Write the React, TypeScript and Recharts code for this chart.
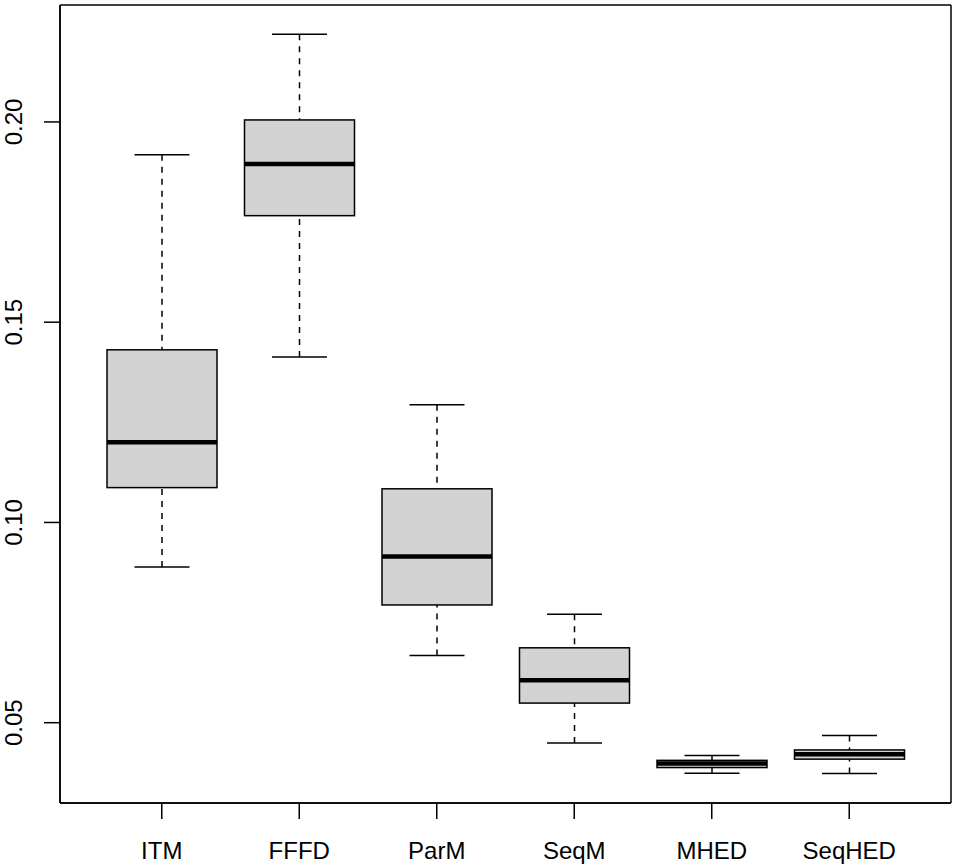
import React from 'react';
import { ComposedChart, Bar, XAxis, YAxis, CartesianGrid } from 'recharts';

const categories = ['ITM', 'FFFD', 'ParM', 'SeqM', 'MHED', 'SeqHED'];
const whiskerLow = [0.0889, 0.1413, 0.0668, 0.0449, 0.0374, 0.0373];
const q1 = [0.1087, 0.1766, 0.0794, 0.0549, 0.0388, 0.0409];
const median = [0.1200, 0.1895, 0.0915, 0.0606, 0.0398, 0.0421];
const q3 = [0.1431, 0.2005, 0.1084, 0.0687, 0.0406, 0.0432];
const whiskerHigh = [0.1918, 0.2219, 0.1294, 0.0771, 0.0418, 0.0468];
const yTicks = [0.05, 0.1, 0.15, 0.2];

const data = categories.map((name, i) => ({
  name,
  lo: whiskerLow[i],
  q1: q1[i],
  med: median[i],
  q3: q3[i],
  hi: whiskerHigh[i],
}));

const FONT = '"Liberation Sans", Arial, Helvetica, sans-serif';
const LW = 1.5;

const BoxShape = (props: any) => {
  const { x, y, width, height, payload } = props;
  if (!payload) return null;
  const top = Math.min(y, y + height);
  const h = Math.abs(height);
  const { lo, hi } = payload;
  const py = (v: number) => top + (h * (hi - v)) / (hi - lo);
  const cx = x + width / 2;
  const capHalf = width / 4;
  const yHi = py(hi);
  const yQ3 = py(payload.q3);
  const yMed = py(payload.med);
  const yQ1 = py(payload.q1);
  const yLo = py(lo);
  return (
    <g>
      <line x1={cx} x2={cx} y1={yHi} y2={yQ3} stroke="#000" strokeWidth={LW} strokeDasharray="6 6" />
      <line x1={cx} x2={cx} y1={yLo} y2={yQ1} stroke="#000" strokeWidth={LW} strokeDasharray="6 6" />
      <line x1={cx - capHalf} x2={cx + capHalf} y1={yHi} y2={yHi} stroke="#000" strokeWidth={LW} />
      <line x1={cx - capHalf} x2={cx + capHalf} y1={yLo} y2={yLo} stroke="#000" strokeWidth={LW} />
      <rect x={x} y={yQ3} width={width} height={yQ1 - yQ3} fill="#D3D3D3" stroke="#000" strokeWidth={LW} />
      <line x1={x} x2={x + width} y1={yMed} y2={yMed} stroke="#000" strokeWidth={4.5} />
    </g>
  );
};

const YTick = (props: any) => {
  const { x, y, payload } = props;
  const tx = x - 20;
  return (
    <text
      x={tx}
      y={y}
      transform={`rotate(-90, ${tx}, ${y})`}
      textAnchor="middle"
      fontSize={24}
      fontFamily={FONT}
      fill="#000"
    >
      {Number(payload.value).toFixed(2)}
    </text>
  );
};

export default function App() {
  return (
    <div style={{ position: 'absolute', left: 0, top: 0, width: 959, height: 864, background: '#fff' }}>
      <ComposedChart
        width={959}
        height={864}
        data={data}
        margin={{ top: 5, right: 8, bottom: 0, left: 0 }}
      >
        <CartesianGrid
          stroke="#000"
          strokeWidth={LW}
          horizontalCoordinatesGenerator={({ offset }: any) => [offset.top, offset.top + offset.height]}
          verticalCoordinatesGenerator={({ offset }: any) => [offset.left, offset.left + offset.width]}
        />
        <XAxis
          dataKey="name"
          type="category"
          height={61}
          padding={{ left: 33, right: 33 }}
          tickSize={16}
          tickMargin={23}
          axisLine={{ stroke: '#000', strokeWidth: LW }}
          tickLine={{ stroke: '#000', strokeWidth: LW }}
          tick={{ fill: '#000', fontSize: 24, fontFamily: FONT }}
          interval={0}
        />
        <YAxis
          type="number"
          domain={[0.02995, 0.2292]}
          allowDataOverflow
          ticks={yTicks}
          width={60}
          tickSize={16}
          axisLine={{ stroke: '#000', strokeWidth: LW }}
          tickLine={{ stroke: '#000', strokeWidth: LW }}
          tick={<YTick />}
          interval={0}
        />
        <Bar
          dataKey={(d: any) => [d.lo, d.hi]}
          barSize={110}
          shape={<BoxShape />}
          isAnimationActive={false}
        />
      </ComposedChart>
    </div>
  );
}
